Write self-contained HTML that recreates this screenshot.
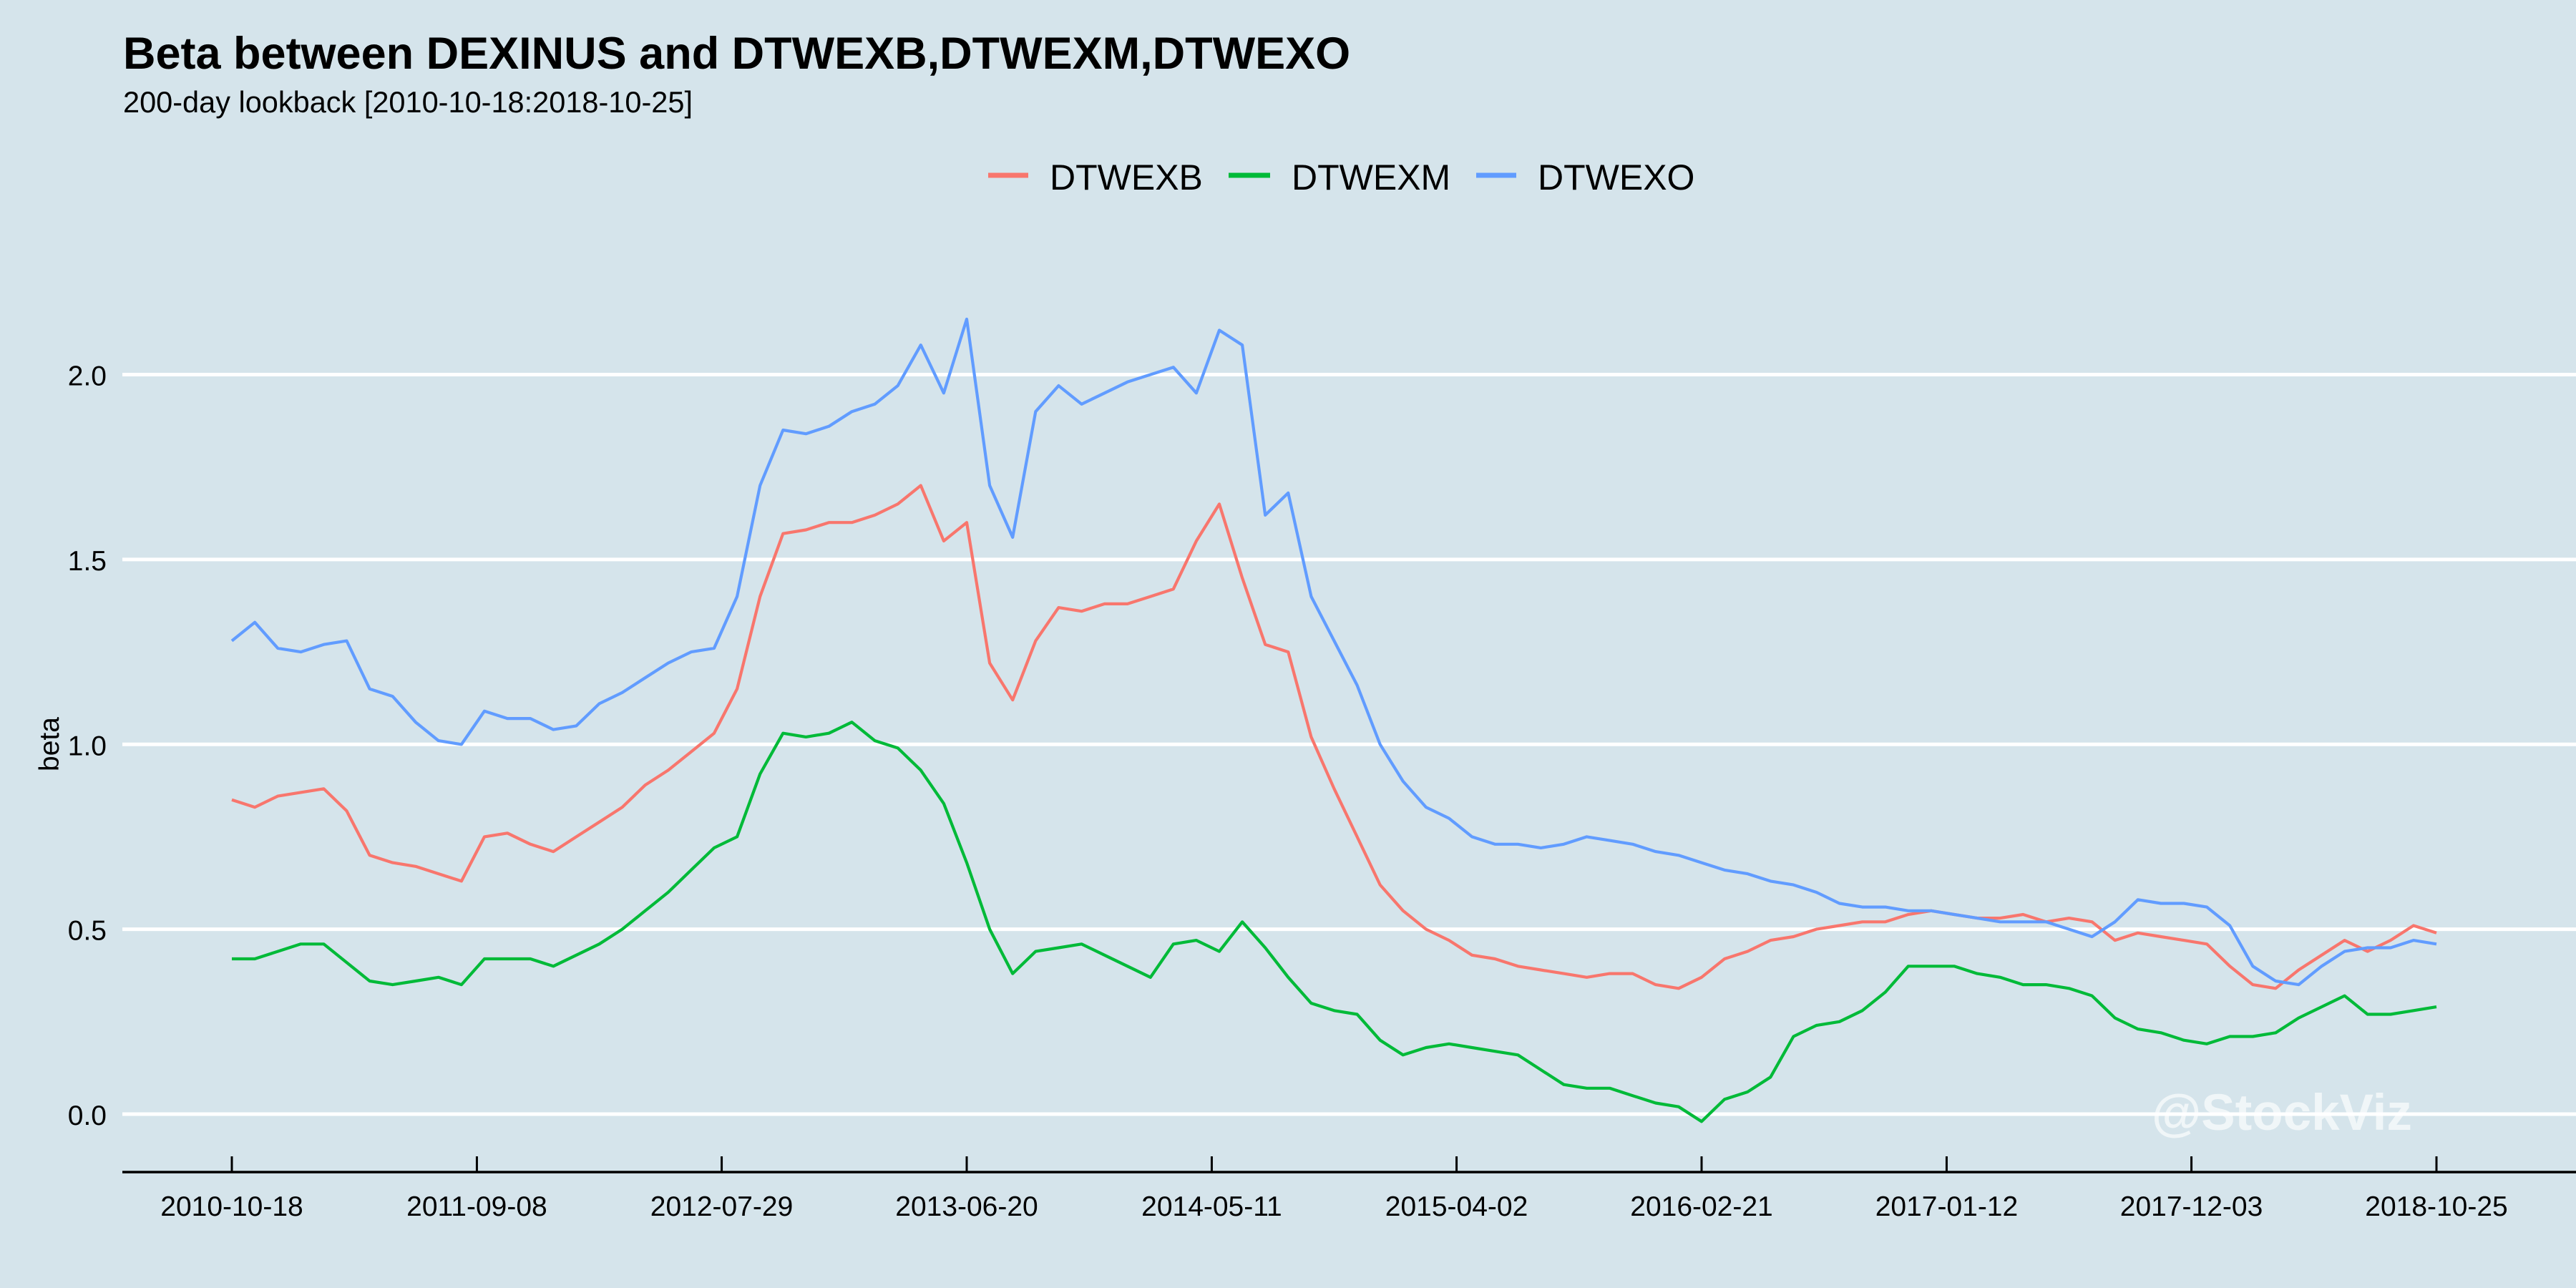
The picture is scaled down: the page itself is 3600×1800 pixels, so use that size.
<!DOCTYPE html>
<html><head><meta charset="utf-8">
<style>
html,body{margin:0;padding:0;background:#d5e4eb;}
svg{display:block;font-family:"Liberation Sans",Arial,sans-serif;}
</style></head>
<body>
<svg id="chart" width="3600" height="1800" viewBox="0 0 3600 1800" xmlns="http://www.w3.org/2000/svg">
<rect x="0" y="0" width="3600" height="1800" fill="#d5e4eb"/>
<text x="172" y="96" font-size="63" font-weight="bold" fill="#000">Beta between DEXINUS and DTWEXB,DTWEXM,DTWEXO</text>
<text x="172" y="157" font-size="41.5" fill="#000">200-day lookback [2010-10-18:2018-10-25]</text>
<g>
<g><line x1="1381" y1="245" x2="1437" y2="245" stroke="#F8766D" stroke-width="7"/><text x="1467" y="265" font-size="50">DTWEXB</text></g>
<g><line x1="1717" y1="245" x2="1775" y2="245" stroke="#00BA38" stroke-width="7"/><text x="1805" y="265" font-size="50">DTWEXM</text></g>
<g><line x1="2063" y1="245" x2="2119" y2="245" stroke="#619CFF" stroke-width="7"/><text x="2149" y="265" font-size="50">DTWEXO</text></g>
</g>
<g id="grid"></g>
<g id="yaxis"></g>
<g id="xaxis"></g>
<g id="series"></g>
<text transform="translate(82,1040) rotate(-90)" text-anchor="middle" font-size="39">beta</text>
<text x="3007" y="1579" font-size="71" font-weight="bold" fill="#ffffff" fill-opacity="0.65">@StockViz</text>
</svg>
<script>
const months = [];
const startYear = 2010, startMonth = 10;
const yTicks = [0, 0.5, 1.0, 1.5, 2.0];
const yTickLabels = ["0.0","0.5","1.0","1.5","2.0"];
const xTickPos = [0, 10.67, 21.33, 32, 42.67, 53.33, 64, 74.67, 85.33, 96];
const xTickLabels = ["2010-10-18","2011-09-08","2012-07-29","2013-06-20","2014-05-11","2015-04-02","2016-02-21","2017-01-12","2017-12-03","2018-10-25"];
const dtwexb = [0.85,0.83,0.86,0.87,0.88,0.82,0.70,0.68,0.67,0.65,0.63,0.75,0.76,0.73,0.71,0.75,0.79,0.83,0.89,0.93,0.98,1.03,1.15,1.40,1.57,1.58,1.60,1.60,1.62,1.65,1.70,1.55,1.60,1.22,1.12,1.28,1.37,1.36,1.38,1.38,1.40,1.42,1.55,1.65,1.45,1.27,1.25,1.02,0.88,0.75,0.62,0.55,0.50,0.47,0.43,0.42,0.40,0.39,0.38,0.37,0.38,0.38,0.35,0.34,0.37,0.42,0.44,0.47,0.48,0.50,0.51,0.52,0.52,0.54,0.55,0.54,0.53,0.53,0.54,0.52,0.53,0.52,0.47,0.49,0.48,0.47,0.46,0.40,0.35,0.34,0.39,0.43,0.47,0.44,0.47,0.51,0.49];
const dtwexm = [0.42,0.42,0.44,0.46,0.46,0.41,0.36,0.35,0.36,0.37,0.35,0.42,0.42,0.42,0.40,0.43,0.46,0.50,0.55,0.60,0.66,0.72,0.75,0.92,1.03,1.02,1.03,1.06,1.01,0.99,0.93,0.84,0.68,0.50,0.38,0.44,0.45,0.46,0.43,0.40,0.37,0.46,0.47,0.44,0.52,0.45,0.37,0.30,0.28,0.27,0.20,0.16,0.18,0.19,0.18,0.17,0.16,0.12,0.08,0.07,0.07,0.05,0.03,0.02,-0.02,0.04,0.06,0.10,0.21,0.24,0.25,0.28,0.33,0.40,0.40,0.40,0.38,0.37,0.35,0.35,0.34,0.32,0.26,0.23,0.22,0.20,0.19,0.21,0.21,0.22,0.26,0.29,0.32,0.27,0.27,0.28,0.29];
const dtwexo = [1.28,1.33,1.26,1.25,1.27,1.28,1.15,1.13,1.06,1.01,1.00,1.09,1.07,1.07,1.04,1.05,1.11,1.14,1.18,1.22,1.25,1.26,1.40,1.70,1.85,1.84,1.86,1.90,1.92,1.97,2.08,1.95,2.15,1.70,1.56,1.90,1.97,1.92,1.95,1.98,2.00,2.02,1.95,2.12,2.08,1.62,1.68,1.40,1.28,1.16,1.00,0.90,0.83,0.80,0.75,0.73,0.73,0.72,0.73,0.75,0.74,0.73,0.71,0.70,0.68,0.66,0.65,0.63,0.62,0.60,0.57,0.56,0.56,0.55,0.55,0.54,0.53,0.52,0.52,0.52,0.50,0.48,0.52,0.58,0.57,0.57,0.56,0.51,0.40,0.36,0.35,0.40,0.44,0.45,0.45,0.47,0.46];

for (let i = 0; i < dtwexb.length; i++) {
  const m = startMonth - 1 + i;
  months.push((startYear + Math.floor(m / 12)) + "-" + String(m % 12 + 1).padStart(2, "0"));
}
const NS = "http://www.w3.org/2000/svg";
const X0 = 324, X1 = 3405, Y0 = 1557, YPER = 516.75;
const nIdx = months.length - 1;
function xs(i){ return X0 + i * (X1 - X0) / nIdx; }
function ys(v){ return Y0 - v * YPER; }
function mk(tag, attrs, parent){ const e = document.createElementNS(NS, tag); for (const k in attrs) e.setAttribute(k, attrs[k]); parent.appendChild(e); return e; }

const grid = document.getElementById('grid');
const yaxis = document.getElementById('yaxis');
yTicks.forEach((v, k) => {
  const l = mk('line', {x1:171, x2:3600, y1:ys(v), y2:ys(v), stroke:'#ffffff', 'stroke-width':5}, grid);
  
  
  const t = mk('text', {x:149, y:ys(v)+15, 'text-anchor':'end', 'font-size':39, fill:'#000'}, yaxis);
  t.textContent = yTickLabels[k];
  
  
});

const xaxis = document.getElementById('xaxis');
const ax = mk('line', {x1:171, x2:3600, y1:1638, y2:1638, stroke:'#000', 'stroke-width':3.5}, xaxis);


xTickPos.forEach((p, k) => {
  const tk = mk('line', {x1:xs(p), x2:xs(p), y1:1616, y2:1638, stroke:'#000', 'stroke-width':3}, xaxis);
  
  
  const t = mk('text', {x:xs(p), y:1699, 'text-anchor':'middle', 'font-size':39, fill:'#000'}, xaxis);
  t.textContent = xTickLabels[k];
  
  
});

const series = document.getElementById('series');
[[dtwexb,'#F8766D','line-dtwexb'],[dtwexm,'#00BA38','line-dtwexm'],[dtwexo,'#619CFF','line-dtwexo']].forEach(([vals, col, name]) => {
  let d = '';
  vals.forEach((v, i) => { d += (i ? 'L' : 'M') + xs(i).toFixed(1) + ',' + ys(v).toFixed(1); });
  const p = mk('path', {d:d, fill:'none', stroke:col, 'stroke-width':4.2, 'stroke-linejoin':'round'}, series);
  
  
});
</script>
</body></html>
